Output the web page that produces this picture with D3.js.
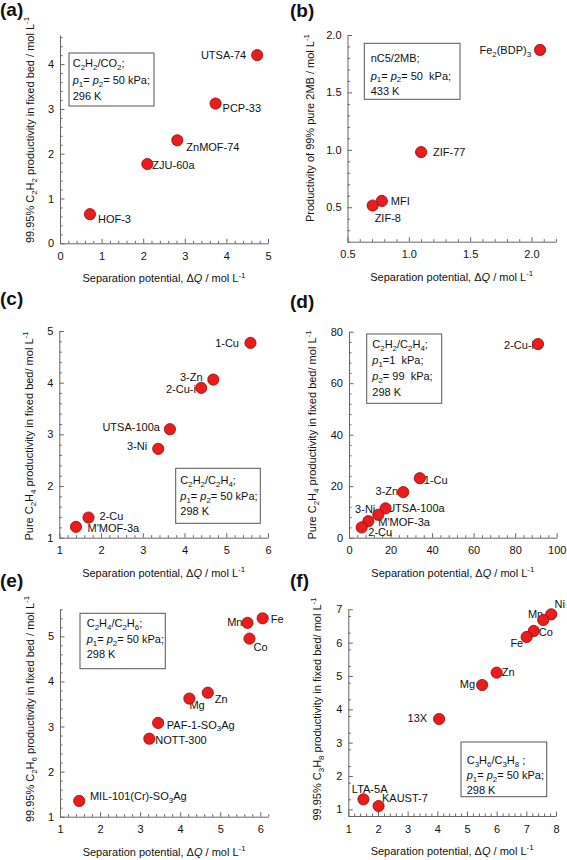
<!DOCTYPE html>
<html><head><meta charset="utf-8">
<script src="https://cdn.jsdelivr.net/npm/d3@7"></script>
<style>
body{margin:0;background:#fff}
svg{display:block}
text{font-family:"Liberation Sans",Arial,sans-serif;fill:#111}
</style>
</head><body>
<svg id="chart" width="567" height="860"></svg>
<script>
// ---------------- DATA ----------------
const aNames = ["UTSA-74","PCP-33","ZnMOF-74","ZJU-60a","HOF-3"];
const aX = [4.74,3.74,2.82,2.10,0.72];
const aY = [4.20,3.12,2.30,1.77,0.65];
const aXTicks = [0,1,2,3,4,5];
const aYTicks = [0,1,2,3,4];
const aLegend = ["C_{2}H_{2}/CO_{2};","*p*_{1}= *p*_{2}= 50 kPa;","296 K"];
const aYTitle = "99.95% C_{2}H_{2}  productivity in fixed bed / mol L^{-1}";

const bNames = ["Fe_{2}(BDP)_{3}","ZIF-77","MFI","ZIF-8"];
const bX = [2.07,1.10,0.78,0.705];
const bY = [1.87,0.98,0.555,0.515];
const bXTicks = [0.5,1.0,1.5,2.0];
const bYTicks = [0.5,1.0,1.5,2.0];
const bLegend = ["nC5/2MB;","*p*_{1}= *p*_{2}= 50\u00a0\u00a0kPa;","433 K"];
const bYTitle = "Productivity of 99% pure 2MB / mol L^{-1}";

const cNames = ["1-Cu","3-Zn","2-Cu-i","UTSA-100a","3-Ni","2-Cu","M'MOF-3a"];
const cX = [5.58,4.69,4.40,3.65,3.37,1.70,1.40];
const cY = [4.77,4.06,3.90,3.10,2.72,1.39,1.21];
const cXTicks = [1,2,3,4,5,6];
const cYTicks = [1,2,3,4,5];
const cLegend = ["C_{2}H_{2}/C_{2}H_{4};","*p*_{1}= *p*_{2}= 50 kPa;","298 K"];
const cYTitle = "Pure C_{2}H_{4} productivity in fixed bed/ mol L^{-1}";

const dNames = ["2-Cu-i","1-Cu","3-Zn","UTSA-100a","3-Ni","M'MOF-3a","2-Cu"];
const dX = [91,34.1,26.1,17.6,14.1,9.3,6.1];
const dY = [75.2,23.1,17.7,11.4,8.9,6.4,4.0];
const dXTicks = [0,20,40,60,80,100];
const dYTicks = [0,20,40,60,80];
const dLegend = ["C_{2}H_{2}/C_{2}H_{4};","*p*_{1}=1\u00a0\u00a0kPa;","*p*_{2}= 99\u00a0\u00a0kPa;","298 K"];
const dYTitle = "Pure C_{2}H_{4} productivity in fixed bed/ mol L^{-1}";

const eNames = ["Fe","Mn","Co","Zn","Mg","PAF-1-SO_{3}Ag","NOTT-300","MIL-101(Cr)-SO_{3}Ag"];
const eX = [6.06,5.68,5.73,4.69,4.23,3.45,3.23,1.48];
const eY = [5.40,5.30,4.95,3.75,3.62,3.08,2.73,1.35];
const eXTicks = [1,2,3,4,5,6];
const eYTicks = [1,2,3,4,5];
const eLegend = ["C_{2}H_{4}/C_{2}H_{6};","*p*_{1}= *p*_{2}= 50 kPa;","298 K"];
const eYTitle = "99.95% C_{2}H_{6}  productivity in fixed bed / mol L^{-1}";

const fNames = ["Ni","Mn","Co","Fe","Zn","Mg","13X","LTA-5A","KAUST-7"];
const fX = [7.84,7.57,7.25,7.01,6.00,5.51,4.06,1.51,2.02];
const fY = [6.85,6.68,6.35,6.17,5.10,4.73,3.71,1.30,1.10];
const fXTicks = [1,2,3,4,5,6,7,8];
const fYTicks = [1,2,3,4,5,6,7];
const fLegend = ["C_{3}H_{6}/C_{3}H_{8} ;","*p*_{1}= *p*_{2}= 50 kPa;","298 K"];
const fYTitle = "99.95% C_{3}H_{8} productivity in fixed bed/ mol L^{-1}";

const xTitle = "Separation potential, \u0394*Q* / mol L^{-1}";
const panelLetters = ["(a)","(b)","(c)","(d)","(e)","(f)"];

// ---------------- LAYOUT ----------------
const panels = [
 {names:aNames,xs:aX,ys:aY,xDom:[0,5],yDom:[0,4.65],xT:aXTicks,yT:aYTicks,xm:0.2,ym:0.2,fmt:d3.format("d"),
  plot:[60,268,35,243.3],legend:aLegend,box:[69,154,53,106],tx:72.7,bl:[67,84,100],
  yTitle:aYTitle,ytX:34,ytY:130,letter:[0,16],
  lab:[[-11,4,"end"],[7,8.5,"start"],[9,11,"start"],[5,4.5,"start"],[8,9,"start"]]},
 {names:bNames,xs:bX,ys:bY,xDom:[0.5,2.2],yDom:[0.2,2.0],xT:bXTicks,yT:bYTicks,xm:0.1,ym:0.1,fmt:d3.format(".1f"),
  plot:[347.5,556,35,241.7],legend:bLegend,box:[364.3,460,43.3,99.3],tx:370.7,bl:[62,79.5,95],
  yTitle:bYTitle,ytX:314,ytY:128,letter:[290,17],
  lab:[[-9,4,"end"],[12,4,"start"],[9,4,"start"],[2,16,"start"]]},
 {names:cNames,xs:cX,ys:cY,xDom:[1,6],yDom:[1,5],xT:cXTicks,yT:cYTicks,xm:0.2,ym:0.2,fmt:d3.format("d"),
  plot:[59.3,268,331,537.7],legend:cLegend,box:[175.7,260.3,468.3,523.3],tx:180.3,bl:[484,500,515],
  yTitle:cYTitle,ytX:33,ytY:436,letter:[0,305],
  lab:[[-11.5,4,"end"],[-10.7,1,"end"],[-5.3,5,"end"],[-10,2,"end"],[-11,1,"end"],[11,2,"start"],[11.6,5,"start"]]},
 {names:dNames,xs:dX,ys:dY,xDom:[0,100],yDom:[0,80],xT:dXTicks,yT:dYTicks,xm:4,ym:4,fmt:d3.format("d"),
  plot:[349,556.7,331.7,537.7],legend:dLegend,box:[366.7,441.7,334,403.3],tx:372.3,bl:[348,364,380,396],
  yTitle:dYTitle,ytX:316,ytY:435,letter:[290,308],
  lab:[[-4,5,"end"],[4,6,"start"],[-5,3,"end"],[1.6,3.5,"start"],[-3,-1.4,"end"],[10,4.6,"start"],[6.6,8.2,"start"]]},
 {names:eNames,xs:eX,ys:eY,xDom:[1,6.2],yDom:[1,5.6],xT:eXTicks,yT:eYTicks,xm:0.2,ym:0.2,fmt:d3.format("d"),
  plot:[60,268.3,609.3,816.7],legend:eLegend,box:[80,165.3,613.3,668.7],tx:86.7,bl:[627,643,658],
  yTitle:eYTitle,ytX:34,ytY:709,letter:[0,587],
  lab:[[8,4.6,"start"],[-5,3,"end"],[4,12.7,"start"],[7,10,"start"],[0,10,"start"],[8.7,5.6,"start"],[6,5.6,"start"],[10.7,-1,"start"]]},
 {names:fNames,xs:fX,ys:fY,xDom:[1,8],yDom:[0.8,7],xT:fXTicks,yT:fYTicks,xm:0.2,ym:0.5,fmt:d3.format("d"),
  plot:[348.3,556,609.3,816],legend:fLegend,box:[461,546.7,742,796.7],tx:466.7,bl:[764,779,793.5],
  yTitle:fYTitle,ytX:321,ytY:709,letter:[290,587],
  lab:[[3.3,-6,"start"],[0,-1.7,"end"],[5,5,"start"],[-3.4,10.3,"end"],[5,3.3,"start"],[-7,3.3,"end"],[-12,2.7,"end"],[-11.6,-6,"start"],[3.4,-3.7,"start"]]}
];

const FS = 11;
const svg = d3.select("#chart");

function rich(sel, str, fs) {
  const re = /(_\{[^}]*\}|\^\{[^}]*\}|\*[^*]*\*)/g;
  const parts = str.split(re).filter(s => s && s.length);
  let shift = 0;
  parts.forEach(p => {
    let t, size = fs, italic = false, ns = 0;
    if (p.startsWith("_{")) { t = p.slice(2,-1); ns = fs*0.25; size = fs*0.72; }
    else if (p.startsWith("^{")) { t = p.slice(2,-1); ns = -fs*0.42; size = fs*0.72; }
    else if (p.startsWith("*")) { t = p.slice(1,-1); italic = true; }
    else t = p;
    const ts = sel.append("tspan").text(t).attr("font-size", size);
    if (ns - shift !== 0) ts.attr("dy", ns - shift);
    if (italic) ts.attr("font-style","italic");
    shift = ns;
  });
}

function rangeStep(a, b, s) {
  const out = [];
  const n = Math.round((b - a) / s);
  for (let i = 0; i <= n; i++) out.push(+(a + i*s).toFixed(6));
  return out;
}

const AX = "#666";

panels.forEach((p, i) => {
  const [L, R, T, B] = p.plot;
  const x = d3.scaleLinear().domain(p.xDom).range([L, R]);
  const y = d3.scaleLinear().domain(p.yDom).range([B, T]);
  const g = svg.append("g");

  // minor ticks
  const xMinor = rangeStep(p.xDom[0], p.xDom[1], p.xm).filter(v => !p.xT.some(t => Math.abs(t-v) < 1e-6));
  const yMinor = rangeStep(p.yDom[0], p.yDom[1], p.ym).filter(v => !p.yT.some(t => Math.abs(t-v) < 1e-6));
  const xm = g.append("g").attr("transform", `translate(0,${B})`)
    .call(d3.axisBottom(x).tickValues(xMinor).tickSizeInner(-2.5).tickSizeOuter(0).tickFormat(""));
  const ym = g.append("g").attr("transform", `translate(${L},0)`)
    .call(d3.axisLeft(y).tickValues(yMinor).tickSizeInner(-2.5).tickSizeOuter(0).tickFormat(""));
  [xm, ym].forEach(s => { s.select(".domain").remove(); s.selectAll("line").attr("stroke", AX); });

  // major axes
  const xa = g.append("g").attr("transform", `translate(0,${B})`)
    .call(d3.axisBottom(x).tickValues(p.xT).tickSizeInner(-4.5).tickSizeOuter(0).tickPadding(9).tickFormat(p.fmt));
  const ya = g.append("g").attr("transform", `translate(${L},0)`)
    .call(d3.axisLeft(y).tickValues(p.yT).tickSizeInner(-4.5).tickSizeOuter(0).tickPadding(6).tickFormat(p.fmt));
  [xa, ya].forEach(s => {
    s.select(".domain").attr("stroke", AX);
    s.selectAll("line").attr("stroke", AX);
    s.selectAll("text").attr("font-size", FS).attr("font-family", "Liberation Sans, Arial, sans-serif").attr("fill", "#111");
  });

  // legend box
  const [bx0, bx1, by0, by1] = p.box;
  g.append("rect").attr("x", bx0).attr("y", by0).attr("width", bx1-bx0).attr("height", by1-by0)
    .attr("fill", "#fff").attr("stroke", "#555").attr("stroke-width", 1);
  p.legend.forEach((line, k) => {
    const t = g.append("text").attr("x", p.tx).attr("y", p.bl[k]).attr("font-size", FS);
    rich(t, line, FS);
  });

  // point labels
  p.names.forEach((n, k) => {
    const [dx, dy, anc] = p.lab[k];
    const t = g.append("text").attr("x", x(p.xs[k]) + dx).attr("y", y(p.ys[k]) + dy)
      .attr("text-anchor", anc).attr("font-size", FS);
    rich(t, n, FS);
  });

  // points
  g.selectAll("circle.pt").data(p.xs.map((v, k) => [v, p.ys[k]])).join("circle")
    .attr("class", "pt")
    .attr("cx", d => x(d[0])).attr("cy", d => y(d[1])).attr("r", 5.6)
    .attr("fill", "#ec1c1c").attr("stroke", "#8a0a0a").attr("stroke-width", 0.8);

  // axis titles
  const xt = g.append("text").attr("x", (L+R)/2).attr("y", B + 39).attr("text-anchor", "middle").attr("font-size", FS);
  rich(xt, xTitle, FS);
  const yt = g.append("text").attr("transform", `translate(${p.ytX},${p.ytY}) rotate(-90)`)
    .attr("text-anchor", "middle").attr("font-size", FS);
  rich(yt, p.yTitle, FS);

  // panel letter
  svg.append("text").attr("x", p.letter[0]).attr("y", p.letter[1]).attr("font-size", 19)
    .attr("font-weight", "bold").text(panelLetters[i]);
});
</script>
</body></html>
